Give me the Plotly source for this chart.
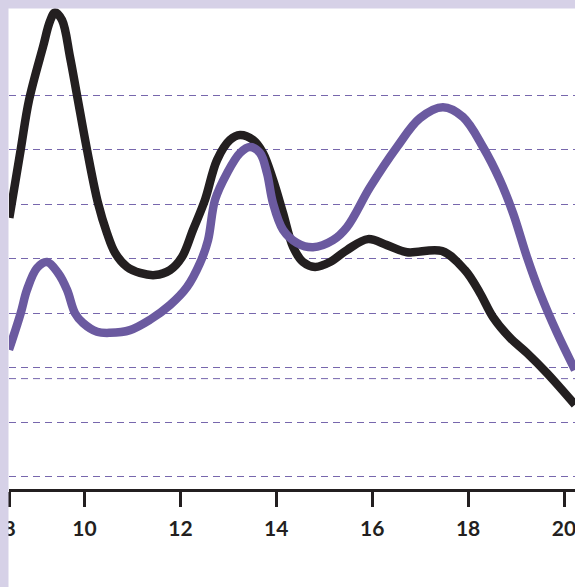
import plotly.graph_objects as go

# ---- data ----
black_x = [8.432, 8.669, 8.843, 9.135, 9.281, 9.385, 9.531, 9.698, 9.844, 10.052,
           10.282, 10.469, 10.636, 10.886, 11.157, 11.470, 11.783, 12.033, 12.263,
           12.513, 12.763, 13.034, 13.243, 13.514, 13.723, 13.931, 14.140, 14.348,
           14.557, 14.807, 15.120, 15.474, 15.912, 16.308, 16.725, 17.455, 17.935,
           18.248, 18.519, 18.874, 19.228, 19.645, 20.229]
black_y = [47.5, 60.0, 69.1, 78.9, 83.6, 85.2, 83.8, 77.0, 70.0, 60.0,
           50.2, 44.7, 41.1, 38.5, 37.4, 37.0, 37.9, 40.3, 45.3,
           50.8, 58.1, 61.8, 62.7, 61.8, 59.4, 54.5, 48.4, 42.2,
           39.4, 38.5, 39.4, 41.6, 43.6, 42.5, 41.2, 41.4, 37.9,
           33.7, 29.3, 25.5, 22.7, 19.0, 13.2]

purple_x = [8.425, 8.669, 8.801, 9.009, 9.218, 9.447, 9.635, 9.802, 9.969, 10.261,
            10.532, 10.949, 11.366, 11.783, 12.138, 12.409, 12.576, 12.722, 12.972,
            13.243, 13.451, 13.660, 13.806, 13.931, 14.140, 14.432, 14.765, 15.182,
            15.474, 15.954, 16.517, 16.997, 17.476, 17.893, 18.310, 18.665, 18.936,
            19.228, 19.499, 19.854, 20.229]
purple_y = [23.3, 30.0, 34.3, 38.3, 39.4, 37.4, 34.3, 30.0, 28.2, 26.6,
            26.4, 26.9, 28.8, 31.5, 34.8, 39.2, 43.4, 50.8, 55.7,
            59.4, 60.5, 59.4, 55.7, 50.2, 45.3, 42.9, 42.1, 43.4,
            45.8, 53.1, 60.5, 65.8, 67.8, 66.0, 60.5, 54.4, 48.4,
            40.3, 33.7, 26.4, 19.6]

x_tick_values = [10, 12, 14, 16, 18, 20]
x_tick_labels = ["10", "12", "14", "16", "18", "20"]
first_tick_label = "8"
y_grid_values = [0, 10, 20, 30, 40, 50, 60, 70]
reference_level = 18

x_range = [8.4254, 20.2294]
y_range = [-2.257, 87.48]

BLACK = "#231f20"
PURPLE = "#6b5aa0"
GRID = "#7767ad"
LAVENDER = "#d6d1e7"

fig = go.Figure()
fig.add_trace(go.Scatter(x=black_x, y=black_y, mode="lines",
                         line=dict(color=BLACK, width=8.5, shape="spline", smoothing=1.0),
                         showlegend=False, hoverinfo="skip"))
fig.add_trace(go.Scatter(x=purple_x, y=purple_y, mode="lines",
                         line=dict(color=PURPLE, width=8.5, shape="spline", smoothing=1.0),
                         showlegend=False, hoverinfo="skip"))

tickvals = [x_range[0] + 0.011] + x_tick_values
ticktext = [first_tick_label] + x_tick_labels

fig.update_xaxes(range=x_range, tickmode="array", tickvals=tickvals, ticktext=ticktext,
                 showgrid=False, zeroline=False, showline=True, linecolor=BLACK, linewidth=3,
                 ticks="outside", ticklen=15, tickwidth=3, tickcolor=BLACK,
                 tickfont=dict(family="Lato", size=21, color=BLACK, weight="bold"),
                 ticklabeloverflow="allow", ticklabelstandoff=4,
                 fixedrange=True)
fig.update_yaxes(range=y_range, tickmode="array", tickvals=y_grid_values,
                 showticklabels=False, showgrid=True, gridcolor=GRID, gridwidth=1,
                 griddash="7px,5px", zeroline=False, showline=False, ticks="",
                 fixedrange=True)

fig.add_shape(type="line", xref="paper", yref="y", x0=0, x1=1,
              y0=reference_level, y1=reference_level,
              line=dict(color=GRID, width=1, dash="7px,5px"), layer="below")
# lavender frame strips (top and left)
fig.add_shape(type="rect", xref="paper", yref="paper", x0=-0.05, x1=1.05,
              y0=1 - 8.5 / 489, y1=1.1, fillcolor=LAVENDER, line=dict(width=0), layer="above")
fig.add_shape(type="rect", xref="paper", yref="paper", x0=-9 / 566 - 0.01, x1=-0.5 / 566,
              y0=-0.3, y1=1.1, fillcolor=LAVENDER, line=dict(width=0), layer="above")

fig.update_layout(width=575, height=587, margin=dict(l=9, r=0, t=0, b=98),
                  paper_bgcolor="white", plot_bgcolor="white", showlegend=False)

fig.write_html("out.html", config={"displayModeBar": False},
               post_script="document.body.style.margin='0';document.body.style.overflow='hidden';")
